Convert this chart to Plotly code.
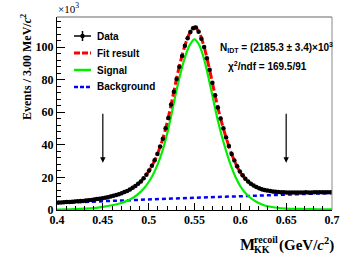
import numpy as np
import plotly.graph_objects as go

# ---------------- data ----------------
bin_low = 0.4
bin_width = 0.003
data_counts_k = [
    4.55, 4.65, 4.75, 4.85, 4.95, 5.05, 5.15, 5.3, 5.45, 5.6,
    5.8, 6.0, 6.2, 6.5, 6.7, 6.95, 7.25, 7.5, 7.85, 8.25,
    8.7, 9.2, 9.7, 10.3, 11.0, 11.7, 12.6, 13.6, 14.7, 16.1,
    17.5, 19.5, 21.7, 24.2, 27.1, 30.5, 34.4, 39.0, 43.8, 50.2,
    56.5, 64.7, 72.6, 80.5, 88.0, 94.6, 100.8, 105.4, 109.3, 111.6,
    112.1, 109.4, 105.2, 100.1, 93.2, 86.1, 78.2, 70.5, 62.9, 56.2,
    50.2, 44.5, 39.3, 34.4, 30.4, 26.8, 23.6, 21.3, 19.2, 17.5,
    16.1, 15.0, 14.1, 13.4, 12.8, 12.3, 11.9, 11.6, 11.35, 11.15,
    11.0, 10.9, 10.85, 10.8, 10.8, 10.75, 10.8, 10.8, 10.75, 10.8,
    10.85, 10.8, 10.8, 10.85, 10.9, 10.85, 10.9, 10.9, 10.95, 10.95,
]

curve_x = [
    0.40, 0.41, 0.42, 0.43, 0.44, 0.45, 0.46, 0.47, 0.475, 0.48,
    0.485, 0.49, 0.495, 0.50, 0.505, 0.51, 0.515, 0.52, 0.525, 0.53,
    0.535, 0.54, 0.545, 0.55, 0.555, 0.56, 0.565, 0.57, 0.575, 0.58,
    0.585, 0.59, 0.595, 0.60, 0.605, 0.61, 0.615, 0.62, 0.625, 0.63,
    0.64, 0.65, 0.66, 0.67, 0.68, 0.69, 0.70,
]
fit_k = [
    4.5, 4.9, 5.3, 5.8, 6.4, 7.3, 8.55, 10.2, 11.3, 12.7,
    14.5, 16.8, 19.8, 23.7, 28.6, 35.0, 43.0, 53.4, 66.0, 79.6,
    91.7, 101.8, 108.9, 112.3, 109.1, 101.2, 89.8, 76.9, 64.0, 53.1,
    43.5, 35.1, 28.4, 23.1, 19.4, 16.7, 14.7, 13.2, 12.1, 11.6,
    10.9, 10.6, 10.6, 10.65, 10.7, 10.75, 10.8,
]
signal_k = [
    0.2, 0.35, 0.5, 0.8, 1.2, 1.9, 2.9, 4.3, 5.3, 6.6,
    8.3, 10.5, 13.4, 17.2, 22.0, 28.3, 36.2, 46.5, 59.0, 72.5,
    84.5, 94.5, 101.5, 104.8, 101.5, 93.5, 82.0, 69.0, 56.0, 45.0,
    35.3, 26.8, 20.0, 14.6, 10.8, 8.0, 5.9, 4.3, 3.1, 2.3,
    1.4, 0.9, 0.7, 0.6, 0.5, 0.45, 0.4,
]
background_k = [
    4.3, 4.55, 4.8, 5.0, 5.2, 5.4, 5.65, 5.9, 6.0, 6.1,
    6.2, 6.3, 6.4, 6.5, 6.6, 6.7, 6.8, 6.9, 7.0, 7.1,
    7.2, 7.3, 7.4, 7.5, 7.6, 7.7, 7.8, 7.9, 8.0, 8.1,
    8.2, 8.3, 8.4, 8.5, 8.6, 8.7, 8.8, 8.9, 9.0, 9.3,
    9.5, 9.7, 9.85, 10.0, 10.15, 10.3, 10.4,
]
arrow_x = [0.45, 0.65]
arrow_top = 60
arrow_bottom = 29

x_tick_vals = [0.4, 0.45, 0.5, 0.55, 0.6, 0.65, 0.7]
x_tick_text = ["0.4", "0.45", "0.5", "0.55", "0.6", "0.65", "0.7"]
y_tick_vals = [0, 20, 40, 60, 80, 100]
y_tick_text = ["0", "20", "40", "60", "80", "100"]

n_idt_text = "N<sub>IDT</sub> = (2185.3 ± 3.4)×10<sup>3</sup>"
chi2_text = "χ<sup>2</sup>/ndf = 169.5/91"
legend_labels = ["Data", "Fit result", "Signal", "Background"]

# --------------- derived ---------------
nb = len(data_counts_k)
x_centers = bin_low + bin_width * (np.arange(nb) + 0.5)
y = np.array(data_counts_k)
y_err = np.sqrt(y * 1000.0) / 1000.0

RED = "#ff0000"
GREEN = "#00ee00"
BLUE = "#0000ff"
SERIF = "Liberation Serif, Times New Roman, serif"
SANS = "Liberation Sans, Arial, Helvetica, sans-serif"

fig = go.Figure()
fig.add_trace(go.Scatter(x=curve_x, y=background_k, mode="lines", line=dict(color=BLUE, width=2.5, dash="4px,3px"),
                         showlegend=False, hoverinfo="skip"))
fig.add_trace(go.Scatter(x=curve_x, y=signal_k, mode="lines", line=dict(color=GREEN, width=2.2, shape="spline"),
                         showlegend=False, hoverinfo="skip"))
fig.add_trace(go.Scatter(x=curve_x, y=fit_k, mode="lines", line=dict(color=RED, width=3, dash="9px,3px", shape="spline"),
                         showlegend=False, hoverinfo="skip"))
fig.add_trace(go.Scatter(
    x=x_centers, y=y, mode="markers",
    marker=dict(color="black", size=4.5),
    error_x=dict(type="constant", value=bin_width / 2, color="black", thickness=1, width=0),
    error_y=dict(type="data", array=y_err, color="black", thickness=1, width=0),
    showlegend=False, hoverinfo="skip"))

# arrows marking the signal region
for ax_ in arrow_x:
    fig.add_annotation(x=ax_, y=arrow_bottom, ax=ax_, ay=arrow_top, xref="x", yref="y", axref="x", ayref="y",
                       text="", showarrow=True, arrowhead=2, arrowsize=0.9, arrowwidth=1.2, arrowcolor="black")

# plot area geometry (px) for paper conversion
W, H = 357, 257
L, R, T, B = 57, 25, 17, 47
pw, ph = W - L - R, H - T - B


def px(xp):
    return (xp - L) / pw


def py(yp):
    return (H - B - yp) / ph


# manual legend
rows = [36, 53, 70, 87]
sx0, sx1, tx = 74, 91, 95
cx = (sx0 + sx1) / 2
fig.add_shape(type="line", xref="paper", yref="paper", x0=px(sx0), x1=px(sx1), y0=py(rows[0]), y1=py(rows[0]),
              line=dict(color="black", width=1.5))
fig.add_shape(type="line", xref="paper", yref="paper", x0=px(cx), x1=px(cx),
              y0=py(rows[0] - 5), y1=py(rows[0] + 5), line=dict(color="black", width=1.5))
fig.add_shape(type="circle", xref="paper", yref="paper", x0=px(cx - 2.2), x1=px(cx + 2.2),
              y0=py(rows[0] + 2.2), y1=py(rows[0] - 2.2), fillcolor="black", line=dict(color="black", width=0))
fig.add_shape(type="line", xref="paper", yref="paper", x0=px(sx0), x1=px(sx1), y0=py(rows[1]), y1=py(rows[1]),
              line=dict(color=RED, width=3, dash="6px,2px"))
fig.add_shape(type="line", xref="paper", yref="paper", x0=px(sx0), x1=px(sx1), y0=py(rows[2]), y1=py(rows[2]),
              line=dict(color=GREEN, width=2.5))
fig.add_shape(type="line", xref="paper", yref="paper", x0=px(sx0), x1=px(sx1), y0=py(rows[3]), y1=py(rows[3]),
              line=dict(color=BLUE, width=2.5, dash="4px,2px"))
for lab, r in zip(legend_labels, rows):
    fig.add_annotation(x=px(tx), y=py(r), xref="paper", yref="paper", text="<b>%s</b>" % lab, showarrow=False,
                       xanchor="left", yanchor="middle", font=dict(family=SANS, size=10, color="black"))

# fit info text
fig.add_annotation(x=px(218), y=py(47), xref="paper", yref="paper", text="<b>%s</b>" % n_idt_text, showarrow=False,
                   xanchor="left", yanchor="middle", font=dict(family=SANS, size=10, color="black"))
fig.add_annotation(x=px(267), y=py(66), xref="paper", yref="paper", text="<b>%s</b>" % chi2_text, showarrow=False,
                   xanchor="center", yanchor="middle", font=dict(family=SANS, size=10, color="black"))

# x10^3 label
fig.add_annotation(x=px(56), y=py(17), xref="paper", yref="paper", text="×10<sup>3</sup>", showarrow=False,
                   xanchor="left", yanchor="bottom", font=dict(family=SERIF, size=11, color="black"))

# y-axis title
fig.add_annotation(x=px(27), y=py(12), xref="paper", yref="paper",
                   text="<b>Events / 3.00 MeV/<i>c</i><sup>2</sup></b>", showarrow=False, textangle=-90,
                   xanchor="center", yanchor="top", font=dict(family=SERIF, size=12, color="black"))

# x-axis title pieces
fig.add_annotation(x=px(238), y=py(244), xref="paper", yref="paper", text="<b>M</b>", showarrow=False,
                   xanchor="left", yanchor="middle", font=dict(family=SERIF, size=16, color="black"))
fig.add_annotation(x=px(252), y=py(239), xref="paper", yref="paper", text="<b>recoil</b>", showarrow=False,
                   xanchor="left", yanchor="middle", font=dict(family=SERIF, size=10, color="black"))
fig.add_annotation(x=px(252), y=py(249), xref="paper", yref="paper", text="<b>KK</b>", showarrow=False,
                   xanchor="left", yanchor="middle", font=dict(family=SERIF, size=10, color="black"))
fig.add_annotation(x=px(277), y=py(244), xref="paper", yref="paper", text="<b>(GeV/<i>c</i><sup>2</sup>)</b>",
                   showarrow=False, xanchor="left", yanchor="middle", font=dict(family=SERIF, size=15, color="black"))

# top/right frame
fig.add_shape(type="line", xref="paper", yref="paper", x0=0, x1=1, y0=1, y1=1, line=dict(color="#666666", width=1))
fig.add_shape(type="line", xref="paper", yref="paper", x0=1, x1=1, y0=0, y1=1, line=dict(color="#888888", width=1))

fig.update_layout(
    width=W, height=H,
    margin=dict(l=L, r=R, t=T, b=B),
    paper_bgcolor="white", plot_bgcolor="white",
    showlegend=False,
    xaxis=dict(range=[0.4, 0.7], tickvals=x_tick_vals,
               ticktext=["<b>%s</b>" % t for t in x_tick_text],
               ticks="inside", ticklen=7, tickwidth=1, tickcolor="black",
               minor=dict(dtick=0.01, tick0=0.4, ticks="inside", ticklen=4, tickcolor="black"),
               showline=True, linecolor="black", linewidth=1.2, showgrid=False, zeroline=False,
               ticklabelstandoff=-2,
               tickfont=dict(family=SERIF, size=12, color="black"), fixedrange=True),
    yaxis=dict(range=[0, 118.5], tickvals=y_tick_vals,
               ticktext=["<b>%s</b>" % t for t in y_tick_text],
               ticks="inside", ticklen=8, tickwidth=1, tickcolor="black",
               minor=dict(dtick=4, tick0=0, ticks="inside", ticklen=4, tickcolor="black"),
               showline=True, linecolor="black", linewidth=1.2, showgrid=False, zeroline=False,
               tickfont=dict(family=SERIF, size=12, color="black"), fixedrange=True),
)

fig.write_html("out.html", config={"displayModeBar": False, "staticPlot": True},
               post_script="document.body.style.margin='0';document.body.style.padding='0';")
